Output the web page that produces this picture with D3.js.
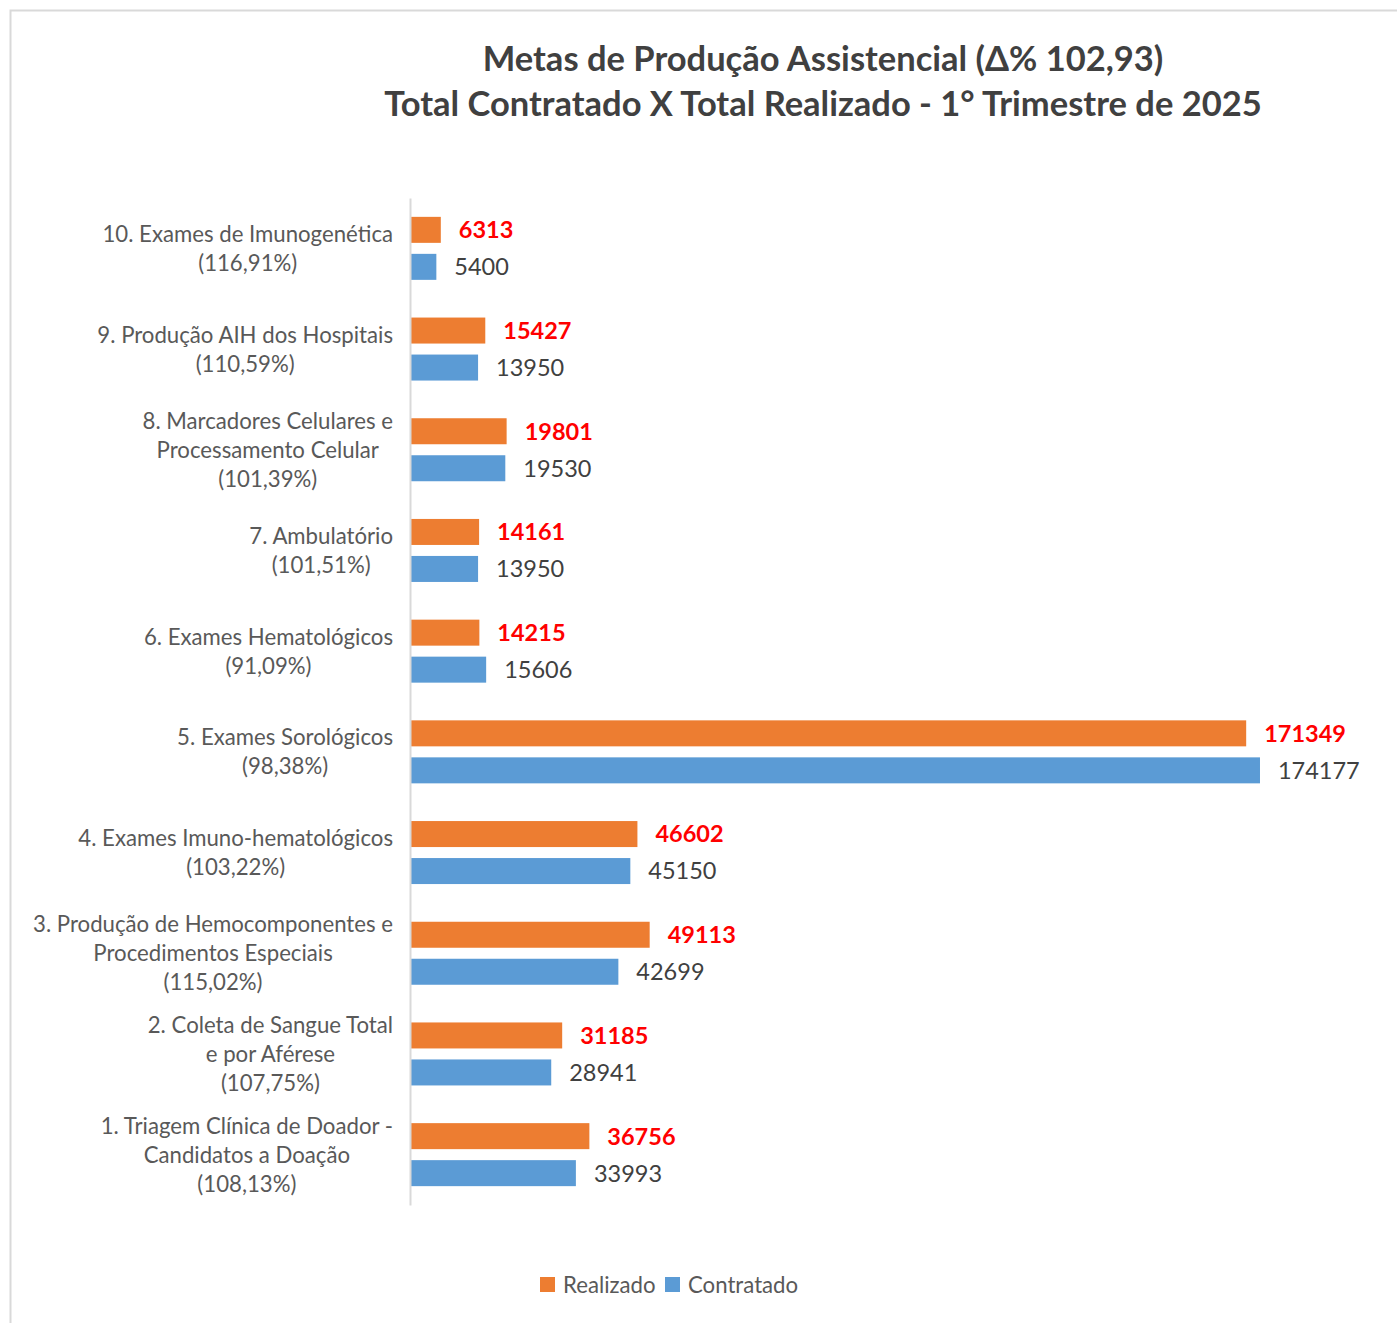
<!DOCTYPE html>
<html>
<head>
<meta charset="utf-8">
<script src="https://cdn.jsdelivr.net/npm/d3@7"></script>
<style>
  body { margin: 0; background: #fff; }
  svg { display: block; font-family: Lato, "Open Sans", sans-serif; }
</style>
</head>
<body>
<svg id="chart" width="1397" height="1323"></svg>
<script>
// data, bottom to top as read in the picture
var categories = [
    ["1. Triagem Clínica de Doador -", "Candidatos a Doação", "(108,13%)"],
    ["2. Coleta de Sangue Total", "e por Aférese", "(107,75%)"],
    ["3. Produção de Hemocomponentes e", "Procedimentos Especiais", "(115,02%)"],
    ["4. Exames Imuno-hematológicos", "(103,22%)"],
    ["5. Exames Sorológicos", "(98,38%)"],
    ["6. Exames Hematológicos", "(91,09%)"],
    ["7. Ambulatório", "(101,51%)"],
    ["8. Marcadores Celulares e", "Processamento Celular", "(101,39%)"],
    ["9. Produção AIH dos Hospitais", "(110,59%)"],
    ["10. Exames de Imunogenética", "(116,91%)"]
];
var realizado = [36756, 31185, 49113, 46602, 171349, 14215, 14161, 19801, 15427, 6313];
var contratado = [33993, 28941, 42699, 45150, 174177, 15606, 13950, 19530, 13950, 5400];
var titleLines = ["Metas de Produção Assistencial (Δ% 102,93)", "Total Contratado X Total Realizado - 1° Trimestre de 2025"];
var seriesNames = ["Realizado", "Contratado"];

var colors = { Realizado: "#ed7d31", Contratado: "#5b9bd5" };

var svg = d3.select("#chart");

// frame
svg.append("path")
    .attr("d", "M10.5,1323 L10.5,10.5 L1397,10.5")
    .attr("fill", "none").attr("stroke", "#d9d9d9").attr("stroke-width", 2);

// title
svg.append("g").selectAll("text")
    .data(titleLines)
    .enter().append("text")
    .attr("x", 823)
    .attr("y", (d, i) => 71 + i * 45)
    .attr("text-anchor", "middle")
    .attr("font-size", 34.5)
    .attr("font-weight", "bold")
    .attr("fill", "#404040")
    .text(d => d);

var idx = d3.range(categories.length).reverse();

var x = d3.scaleLinear().domain([0, 200000]).range([410, 1386]);
var y = d3.scaleBand().domain(idx).range([198, 1205]);

var barH = 26, gap = 11;
var off = (y.bandwidth() - 2 * barH - gap) / 2;

var rows = svg.append("g").selectAll("g")
    .data(idx)
    .enter().append("g")
    .attr("transform", i => "translate(0," + y(i) + ")");

rows.append("rect")
    .attr("x", x(0))
    .attr("y", off)
    .attr("width", i => x(realizado[i]) - x(0))
    .attr("height", barH)
    .attr("fill", colors.Realizado);

rows.append("rect")
    .attr("x", x(0))
    .attr("y", off + barH + gap)
    .attr("width", i => x(contratado[i]) - x(0))
    .attr("height", barH)
    .attr("fill", colors.Contratado);

rows.append("text")
    .attr("x", i => x(realizado[i]) + 18)
    .attr("y", off + barH / 2)
    .attr("dy", "0.36em")
    .attr("font-size", 23.5)
    .attr("font-weight", "bold")
    .attr("fill", "#ff0000")
    .text(i => realizado[i]);

rows.append("text")
    .attr("x", i => x(contratado[i]) + 18)
    .attr("y", off + barH + gap + barH / 2)
    .attr("dy", "0.36em")
    .attr("font-size", 23.5)
    .attr("fill", "#404040")
    .text(i => contratado[i]);

// category labels
rows.each(function (i) {
    var lines = categories[i];
    var lh = 29;
    var t = d3.select(this).append("text")
        .attr("text-anchor", "middle")
        .attr("font-size", 22.2)
        .attr("fill", "#595959");
    lines.forEach((l, k) => {
        t.append("tspan")
            .attr("x", 0)
            .attr("y", y.bandwidth() / 2 + (k - (lines.length - 1) / 2) * lh)
            .attr("dy", "0.36em")
            .text(l);
    });
    // right align the block but center lines within it
    var w = t.node().getBBox().width;
    t.attr("transform", "translate(" + (393 - w / 2) + ",0)");
});

// axis line
svg.append("g")
    .attr("transform", "translate(" + x(0) + ",0)")
    .call(d3.axisLeft(y).tickSize(0).tickFormat(""))
    .call(g => g.select(".domain").attr("stroke", "#d9d9d9").attr("stroke-width", 2));

// legend
var lg = svg.append("g").attr("transform", "translate(540,1285)");
var lx = [0, 125];
seriesNames.forEach((s, k) => {
    lg.append("rect").attr("x", lx[k]).attr("y", -8).attr("width", 15).attr("height", 15).attr("fill", colors[s]);
    lg.append("text").attr("x", lx[k] + 23).attr("y", 0).attr("dy", "0.36em")
        .attr("font-size", 22.2).attr("fill", "#595959").text(s);
});
</script>
</body>
</html>
